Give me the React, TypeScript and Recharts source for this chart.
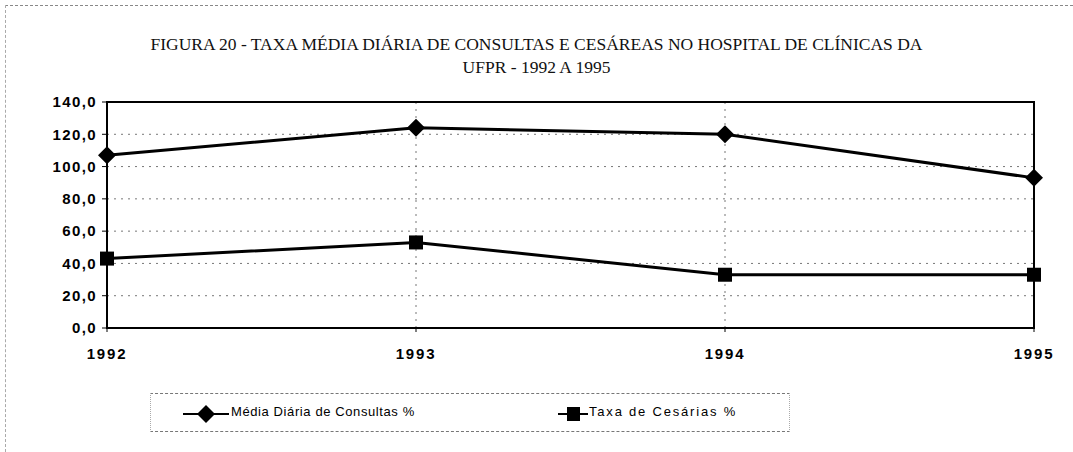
import { LineChart, Line, XAxis, YAxis, CartesianGrid, ReferenceArea, Legend } from "recharts";

const years = ["1992", "1993", "1994", "1995"];
const consultas = [107.0, 124.0, 120.0, 93.0];
const cesareas = [43.0, 53.0, 33.0, 33.0];
const yTicks = [0, 20, 40, 60, 80, 100, 120, 140];

const SERIES_1 = "Média Diária de Consultas %";
const SERIES_2 = "Taxa de Cesárias %";

const data = years.map((year, i) => ({
  year,
  consultas: consultas[i],
  cesareas: cesareas[i],
}));

const fmt = (v: number) => v.toFixed(1).replace(".", ",");

function Diamond(props: any) {
  const { cx, cy } = props;
  if (cx == null || cy == null) return null;
  const r = 9;
  return (
    <path
      d={`M${cx},${cy - r} L${cx + r},${cy} L${cx},${cy + r} L${cx - r},${cy} Z`}
      fill="#000"
    />
  );
}

function Square(props: any) {
  const { cx, cy } = props;
  if (cx == null || cy == null) return null;
  const s = 7;
  return <rect x={cx - s} y={cy - s} width={s * 2} height={s * 2} fill="#000" />;
}

function LegendBox() {
  const text = { fontFamily: "Liberation Sans, Arial, sans-serif", fontSize: 13, color: "#000" };
  return (
    <div
      style={{
        position: "absolute",
        left: 150,
        top: 393,
        width: 640,
        height: 39,
        boxSizing: "border-box",
        borderTop: "1px dashed #777",
        borderBottom: "1px dashed #777",
        borderLeft: "1px dotted #aaa",
        borderRight: "1px dotted #aaa",
      }}
    >
      <svg style={{ position: "absolute", left: 32, top: 10 }} width={46} height={20}>
        <line x1={0} y1={10} x2={46} y2={10} stroke="#000" strokeWidth={2} />
        <path d="M23,1 L32,10 L23,19 L14,10 Z" fill="#000" />
      </svg>
      <span style={{ ...text, letterSpacing: 0.6, position: "absolute", left: 80, top: 10 }}>{SERIES_1}</span>
      <svg style={{ position: "absolute", left: 407, top: 10 }} width={30} height={20}>
        <line x1={0} y1={10} x2={30} y2={10} stroke="#000" strokeWidth={2} />
        <rect x={9} y={3} width={13} height={14} fill="#000" />
      </svg>
      <span style={{ ...text, letterSpacing: 1.8, position: "absolute", left: 438, top: 10 }}>{SERIES_2}</span>
    </div>
  );
}

export default function App() {
  return (
    <div style={{ position: "absolute", left: 0, top: 0, width: 1073, height: 452, background: "#fff" }}>
      <div
        style={{
          position: "absolute",
          left: 5,
          top: 5,
          width: 1068,
          height: 447,
          boxSizing: "border-box",
          borderTop: "1px dashed #888",
          borderLeft: "1px dashed #aaa",
        }}
      />
      <div
        style={{
          position: "absolute",
          left: 0,
          top: 33,
          width: 1073,
          textAlign: "center",
          fontFamily: "Liberation Serif, Times New Roman, serif",
          fontSize: 17.5,
          lineHeight: "23px",
          color: "#111",
        }}
      >
        FIGURA 20 - TAXA MÉDIA DIÁRIA DE CONSULTAS E CESÁREAS NO HOSPITAL DE CLÍNICAS DA
        <br />
        UFPR - 1992 A 1995
      </div>
      <LineChart
        width={1073}
        height={452}
        data={data}
        margin={{ top: 102, right: 39, left: 37, bottom: 94 }}
        style={{ position: "absolute", left: 0, top: 0 }}
      >
        <CartesianGrid stroke="#777" strokeDasharray="2 5" />
        <ReferenceArea x1="1992" x2="1995" y1={0} y2={140} fill="none" stroke="#000" strokeWidth={2} />
        <XAxis
          dataKey="year"
          height={30}
          axisLine={{ stroke: "#000", strokeWidth: 2 }}
          tickLine={{ stroke: "#000" }}
          tickSize={4}
          tick={{ fill: "#000", fontSize: 15, fontWeight: "bold", fontFamily: "Liberation Sans, Arial, sans-serif", letterSpacing: 1.8 }}
          tickMargin={16}
        />
        <YAxis
          width={70}
          domain={[0, 140]}
          ticks={yTicks}
          tickFormatter={fmt}
          axisLine={{ stroke: "#000", strokeWidth: 2 }}
          tickLine={{ stroke: "#000" }}
          tickSize={5}
          tickMargin={5}
          tick={{ fill: "#000", fontSize: 15, fontWeight: "bold", fontFamily: "Liberation Sans, Arial, sans-serif", letterSpacing: 1.4 }}
        />
        <Legend content={() => null} />
        <Line
          type="linear"
          dataKey="consultas"
          name={SERIES_1}
          stroke="#000"
          strokeWidth={3}
          dot={<Diamond />}
          activeDot={false}
          isAnimationActive={false}
        />
        <Line
          type="linear"
          dataKey="cesareas"
          name={SERIES_2}
          stroke="#000"
          strokeWidth={3}
          dot={<Square />}
          activeDot={false}
          isAnimationActive={false}
        />
      </LineChart>
      <LegendBox />
    </div>
  );
}
